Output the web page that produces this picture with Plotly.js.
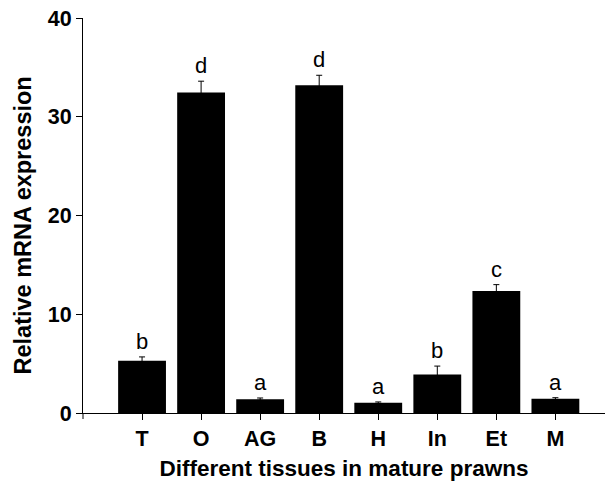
<!DOCTYPE html>
<html>
<head>
<meta charset="utf-8">
<script src="https://cdn.plot.ly/plotly-3.0.1.min.js"></script>
<style>html,body{margin:0;padding:0;background:#fff;}#chart{width:606px;height:483px;}</style>
</head>
<body>
<div id="chart"></div>
<script>
const tissues = ['T', 'O', 'AG', 'B', 'H', 'In', 'Et', 'M'];
const expression = [5.3, 32.45, 1.4, 33.2, 1.04, 3.9, 12.35, 1.45];
const errors = [0.38, 1.15, 0.12, 1.0, 0.08, 0.85, 0.65, 0.1];
const letters = ['b', 'd', 'a', 'd', 'a', 'b', 'c', 'a'];
const yTicks = [0, 10, 20, 30, 40];

const font = 'Liberation Sans, Arial, sans-serif';

const trace = {
  type: 'bar',
  x: tissues,
  y: expression,
  width: 0.81,
  marker: {color: '#000', line: {width: 0}},
  error_y: {type: 'data', array: errors, visible: true, color: '#000', thickness: 1, width: 3},
  hoverinfo: 'none'
};

const annotations = tissues.map((t, i) => ({
  x: t, y: expression[i] + errors[i], xref: 'x', yref: 'y',
  text: letters[i], showarrow: false, yanchor: 'bottom', yshift: 1,
  font: {family: font, size: 22, color: '#000'}
}));

annotations.push({
  x: 0, y: 0.5, xref: 'paper', yref: 'paper',
  xanchor: 'center', yanchor: 'middle', xshift: -61, yshift: -10,
  textangle: -90, showarrow: false,
  text: '<b>Relative mRNA expression</b>',
  font: {family: font, size: 23.5, color: '#000'}
});

const layout = {
  width: 606, height: 483,
  margin: {l: 83, r: 1, t: 17.5, b: 70},
  paper_bgcolor: '#fff', plot_bgcolor: '#fff',
  showlegend: false,
  xaxis: {
    type: 'category',
    range: [-1, 7.84],
    showline: true, linecolor: '#000', linewidth: 1,
    ticks: 'outside', ticklen: 6, tickcolor: '#000', tickwidth: 1,
    showgrid: false, zeroline: false,
    tickfont: {family: font, size: 21.5, color: '#000', weight: 'bold'},
    title: {text: '<b>Different tissues in mature prawns</b>', font: {family: font, size: 22.5, color: '#000'}, standoff: 10}
  },
  yaxis: {
    range: [0, 40],
    tickvals: yTicks,
    showline: true, linecolor: '#000', linewidth: 1,
    ticks: 'outside', ticklen: 6, tickcolor: '#000', tickwidth: 1,
    showgrid: false, zeroline: false,
    tickfont: {family: font, size: 21.5, color: '#000', weight: 'bold'}
  },
  shapes: [{
    type: 'line', xref: 'paper', yref: 'paper',
    x0: 0, x1: 0, y0: 0, y1: -0.0152,
    line: {color: '#000', width: 1}
  }],
  annotations: annotations
};

Plotly.newPlot('chart', [trace], layout, {displayModeBar: false, staticPlot: true});
</script>
</body>
</html>
